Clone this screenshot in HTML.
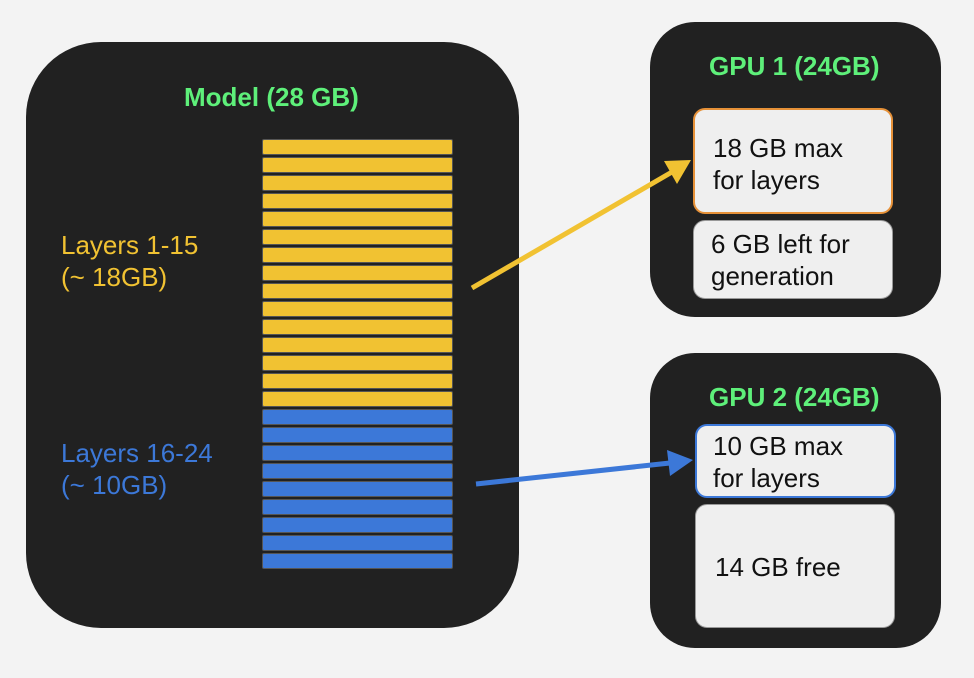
<!DOCTYPE html>
<html><head><style>
body{margin:0;width:974px;height:678px;background:#f3f3f3;position:relative;overflow:hidden;font-family:"Liberation Sans",sans-serif}
.box{position:absolute;background:#212121}
.bar{position:absolute;left:262px;width:189px;height:14px;border:1px solid #555;border-radius:2px}
.t{position:absolute;white-space:nowrap}
.in{position:absolute;background:#efefef;border-radius:12px;box-sizing:border-box;font-size:26px;color:#111;line-height:32px}
</style></head><body>
<div class="box" style="left:26px;top:42px;width:493px;height:586px;border-radius:75px"></div>
<div class="box" style="left:650px;top:22px;width:291px;height:295px;border-radius:45px"></div>
<div class="box" style="left:650px;top:353px;width:291px;height:295px;border-radius:45px"></div>
<div class="t" style="left:184px;top:82px;font-size:26px;font-weight:bold;color:#5ef07a">Model (28 GB)</div>
<div class="t" style="left:709px;top:51px;font-size:26px;font-weight:bold;color:#5ef07a">GPU 1 (24GB)</div>
<div class="t" style="left:709px;top:382px;font-size:26px;font-weight:bold;color:#5ef07a">GPU 2 (24GB)</div>
<div class="t" style="left:61px;top:229px;font-size:26px;line-height:32px;color:#f1c232">Layers 1-15<br>(~ 18GB)</div>
<div class="t" style="left:61px;top:437px;font-size:26px;line-height:32px;color:#3c78d8">Layers 16-24<br>(~ 10GB)</div>
<div id="bars"></div>
<script>
var h='';for(var i=0;i<24;i++){h+='<div class="bar" style="top:'+(139+i*18)+'px;background:'+(i<15?'#f1c232':'#3c78d8')+'"></div>';}
document.getElementById('bars').innerHTML=h;
</script>
<div class="in" style="left:693px;top:108px;width:200px;height:106px;border:2px solid #e69138;padding:22px 0 0 18px">18 GB max<br>for layers</div>
<div class="in" style="left:693px;top:220px;width:200px;height:79px;border:1px solid #999;padding:7px 0 0 17px">6 GB left for<br>generation</div>
<div class="in" style="left:695px;top:424px;width:201px;height:74px;border:2px solid #3c78d8;padding:4px 0 0 16px">10 GB max<br>for layers</div>
<div class="in" style="left:695px;top:504px;width:200px;height:124px;border:1px solid #999;padding:46px 0 0 19px">14 GB free</div>
<svg style="position:absolute;left:0;top:0" width="974" height="678">
<line x1="472" y1="288" x2="672" y2="172" stroke="#f1c232" stroke-width="5"/>
<polygon points="691,160 664,161 677,184" fill="#f1c232"/>
<line x1="476" y1="484" x2="670" y2="463" stroke="#3c78d8" stroke-width="5"/>
<polygon points="693,460 667,450 670,476" fill="#3c78d8"/>
</svg>
</body></html>
